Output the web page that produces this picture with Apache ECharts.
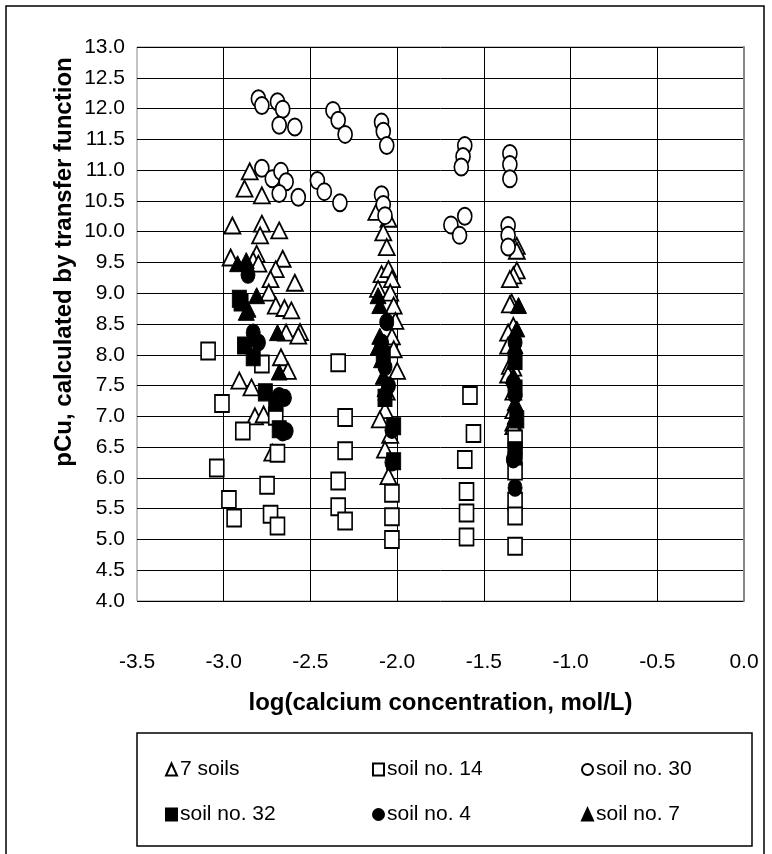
<!DOCTYPE html>
<html>
<head>
<meta charset="utf-8">
<script src="https://cdn.jsdelivr.net/npm/echarts@6/dist/echarts.min.js"></script>
<style>
  html, body { margin: 0; padding: 0; background: #fff; }
  #chart { width: 772px; height: 854px; }
</style>
</head>
<body>
<div id="chart"></div>
<script>
// pontos: [log(Ca), pCu]
const sevenSoils = [
  [-2.85, 10.98], [-2.88, 10.70], [-2.78, 10.59], [-2.95, 10.10], [-2.78, 10.13], [-2.79, 9.94],
  [-2.68, 10.02], [-2.96, 9.58], [-2.81, 9.64], [-2.66, 9.56], [-2.70, 9.39], [-2.73, 9.23],
  [-2.59, 9.17], [-2.74, 9.01], [-2.83, 9.53], [-2.80, 9.48], [-2.70, 8.80], [-2.65, 8.76],
  [-2.61, 8.72], [-2.56, 8.37], [-2.64, 8.36], [-2.57, 8.31], [-2.67, 7.96], [-2.63, 7.74],
  [-2.91, 7.58], [-2.84, 7.47], [-2.82, 7.00], [-2.77, 7.03], [-2.72, 6.41],
  [-2.12, 10.32], [-2.05, 10.21], [-2.08, 9.99], [-2.06, 9.75], [-2.09, 9.31], [-2.05, 9.39],
  [-2.03, 9.23], [-2.11, 9.07], [-2.04, 9.01], [-2.02, 8.80], [-2.01, 8.55], [-2.03, 8.30],
  [-2.02, 8.09], [-2.00, 7.74], [-2.06, 7.40], [-2.07, 7.10], [-2.10, 6.95], [-2.04, 6.70],
  [-2.07, 6.46], [-2.05, 6.03],
  [-1.31, 9.77], [-1.31, 9.69], [-1.31, 9.37], [-1.33, 9.29], [-1.35, 9.23], [-1.34, 8.85],
  [-1.35, 8.82], [-1.33, 8.47], [-1.36, 8.36], [-1.36, 8.15], [-1.35, 7.82], [-1.33, 7.79],
  [-1.36, 7.68], [-1.33, 7.40], [-1.33, 7.10], [-1.33, 6.90], [-1.33, 6.84]
];
const soil14 = [
  [-3.09, 8.06], [-3.01, 7.21], [-2.89, 6.76], [-3.04, 6.16], [-2.97, 5.65], [-2.94, 5.35],
  [-2.75, 5.88], [-2.73, 5.41], [-2.69, 5.22], [-2.69, 6.40], [-2.78, 7.85], [-2.70, 7.00],
  [-2.34, 7.87], [-2.30, 6.98], [-2.30, 6.44], [-2.34, 5.95], [-2.34, 5.53], [-2.30, 5.30],
  [-2.03, 5.75], [-2.03, 5.37], [-2.03, 5.00],
  [-1.58, 7.34], [-1.56, 6.72], [-1.61, 6.30], [-1.60, 5.78], [-1.60, 5.43], [-1.60, 5.04],
  [-1.32, 6.63], [-1.32, 6.11], [-1.32, 5.62], [-1.32, 5.38], [-1.32, 4.89]
];
const soil30 = [
  [-2.80, 12.16], [-2.78, 12.05], [-2.69, 12.11], [-2.66, 11.99], [-2.68, 11.73], [-2.59, 11.70],
  [-2.78, 11.03], [-2.72, 10.86], [-2.67, 10.98], [-2.64, 10.81], [-2.68, 10.62], [-2.57, 10.56],
  [-2.37, 11.97], [-2.34, 11.81], [-2.30, 11.58], [-2.46, 10.83], [-2.42, 10.65], [-2.33, 10.47],
  [-2.09, 11.78], [-2.08, 11.63], [-2.06, 11.40], [-2.09, 10.60], [-2.08, 10.44], [-2.07, 10.26],
  [-1.61, 11.40], [-1.62, 11.22], [-1.63, 11.05], [-1.69, 10.11], [-1.61, 10.25], [-1.64, 9.94],
  [-1.35, 11.27], [-1.35, 11.09], [-1.35, 10.86], [-1.36, 10.10], [-1.36, 9.94], [-1.36, 9.75]
];
const soil32 = [
  [-2.91, 8.91], [-2.90, 8.85], [-2.88, 8.15], [-2.83, 7.96], [-2.76, 7.39], [-2.70, 7.22], [-2.68, 6.79],
  [-2.08, 8.00], [-2.07, 7.30], [-2.02, 6.84], [-2.02, 6.27],
  [-1.32, 7.90], [-1.32, 7.45], [-1.31, 6.95], [-1.32, 6.45], [-1.32, 6.35]
];
const soil4 = [
  [-2.86, 9.30], [-2.83, 8.36], [-2.80, 8.20], [-2.68, 7.33], [-2.65, 7.30], [-2.64, 6.76], [-2.66, 6.74],
  [-2.06, 8.53], [-2.09, 8.20], [-2.07, 7.80], [-2.05, 7.50], [-2.03, 6.78], [-2.03, 6.25],
  [-1.32, 8.20], [-1.33, 7.55], [-1.32, 7.35], [-1.32, 6.41], [-1.33, 6.30], [-1.32, 5.84]
];
const soil7 = [
  [-2.92, 9.48], [-2.87, 9.53], [-2.87, 8.69], [-2.81, 8.96], [-2.86, 8.74], [-2.69, 8.36], [-2.68, 7.72],
  [-2.11, 8.96], [-2.10, 8.80], [-2.10, 8.30], [-2.11, 8.12], [-2.09, 7.92], [-2.08, 7.65], [-2.07, 7.45],
  [-1.30, 8.80], [-1.31, 8.42], [-1.32, 8.15], [-1.33, 7.66], [-1.32, 7.22], [-1.32, 7.00]
];

const xTitle = 'log(calcium concentration, mol/L)';
const yTitle = 'pCu, calculated by transfer function';

const font = "'Liberation Sans', Arial, sans-serif";
const ellipse = 'path://M0,50A50,50 0 1,1 100,50A50,50 0 1,1 0,50Z';

const makeSeries = (name, data, symbol, size, filled) => ({
  name,
  type: 'scatter',
  data,
  symbol,
  symbolSize: size,
  itemStyle: {
    color: filled ? '#000' : '#fff',
    borderColor: '#000',
    borderWidth: filled ? 1 : 1.8,
    opacity: 1,
  },
  emphasis: { disabled: true },
});

const legendBase = {
  orient: 'vertical',
  top: 754,
  itemGap: 24,
  itemWidth: 11,
  itemHeight: 12,
  selectedMode: false,
  textStyle: { fontFamily: font, fontSize: 21, color: '#000', padding: [0, 0, 0, -2] },
};

const chart = echarts.init(document.getElementById('chart'));

chart.setOption({
  animation: false,
  backgroundColor: '#fff',
  grid: {
    left: 137, right: 28, top: 47, bottom: 253,
    show: true, borderColor: '#888', borderWidth: 1,
  },
  xAxis: {
    type: 'value', min: -3.5, max: 0, interval: 0.5,
    name: xTitle, nameLocation: 'middle', nameGap: 90,
    nameTextStyle: { fontFamily: font, fontSize: 24, fontWeight: 'bold', color: '#000' },
    axisLine: { show: false }, axisTick: { show: false },
    axisLabel: { margin: 51, fontFamily: font, fontSize: 21, color: '#000', formatter: (v) => v.toFixed(1) },
    splitLine: { show: true, showMinLine: false, lineStyle: { color: '#000', width: 1 } },
  },
  yAxis: {
    type: 'value', min: 4, max: 13, interval: 0.5,
    axisLine: { show: true, lineStyle: { color: '#888', width: 2 } }, axisTick: { show: false },
    axisLabel: { margin: 12, fontFamily: font, fontSize: 21, color: '#000', formatter: (v) => v.toFixed(1) },
    splitLine: { show: true, lineStyle: { color: '#000', width: 1 } },
  },
  legend: [
    { ...legendBase, left: 160, data: ['7 soils', 'soil no. 32'] },
    { ...legendBase, left: 367, data: ['soil no. 14', 'soil no. 4'] },
    { ...legendBase, left: 576, data: ['soil no. 30', 'soil no. 7'] },
  ],
  graphic: [
    { type: 'rect', shape: { x: 6, y: 6, width: 758, height: 860 }, style: { fill: 'none', stroke: '#000', lineWidth: 1.5 }, silent: true },
    { type: 'rect', shape: { x: 137, y: 733, width: 615, height: 113 }, style: { fill: 'none', stroke: '#000', lineWidth: 1.5 }, silent: true },
    {
      type: 'text', x: 64, y: 262, rotation: Math.PI / 2,
      style: { text: yTitle, fontFamily: font, fontSize: 24, fontWeight: 'bold', fill: '#000', align: 'center', verticalAlign: 'middle' },
      silent: true,
    },
  ],
  series: [
    makeSeries('7 soils', sevenSoils, 'triangle', [16, 16], false),
    makeSeries('soil no. 14', soil14, 'rect', [14, 17], false),
    makeSeries('soil no. 30', soil30, ellipse, [14, 17], false),
    makeSeries('soil no. 32', soil32, 'rect', [14, 17], true),
    makeSeries('soil no. 4', soil4, ellipse, [14, 17], true),
    makeSeries('soil no. 7', soil7, 'triangle', [16, 16], true),
  ],
});
</script>
</body>
</html>
